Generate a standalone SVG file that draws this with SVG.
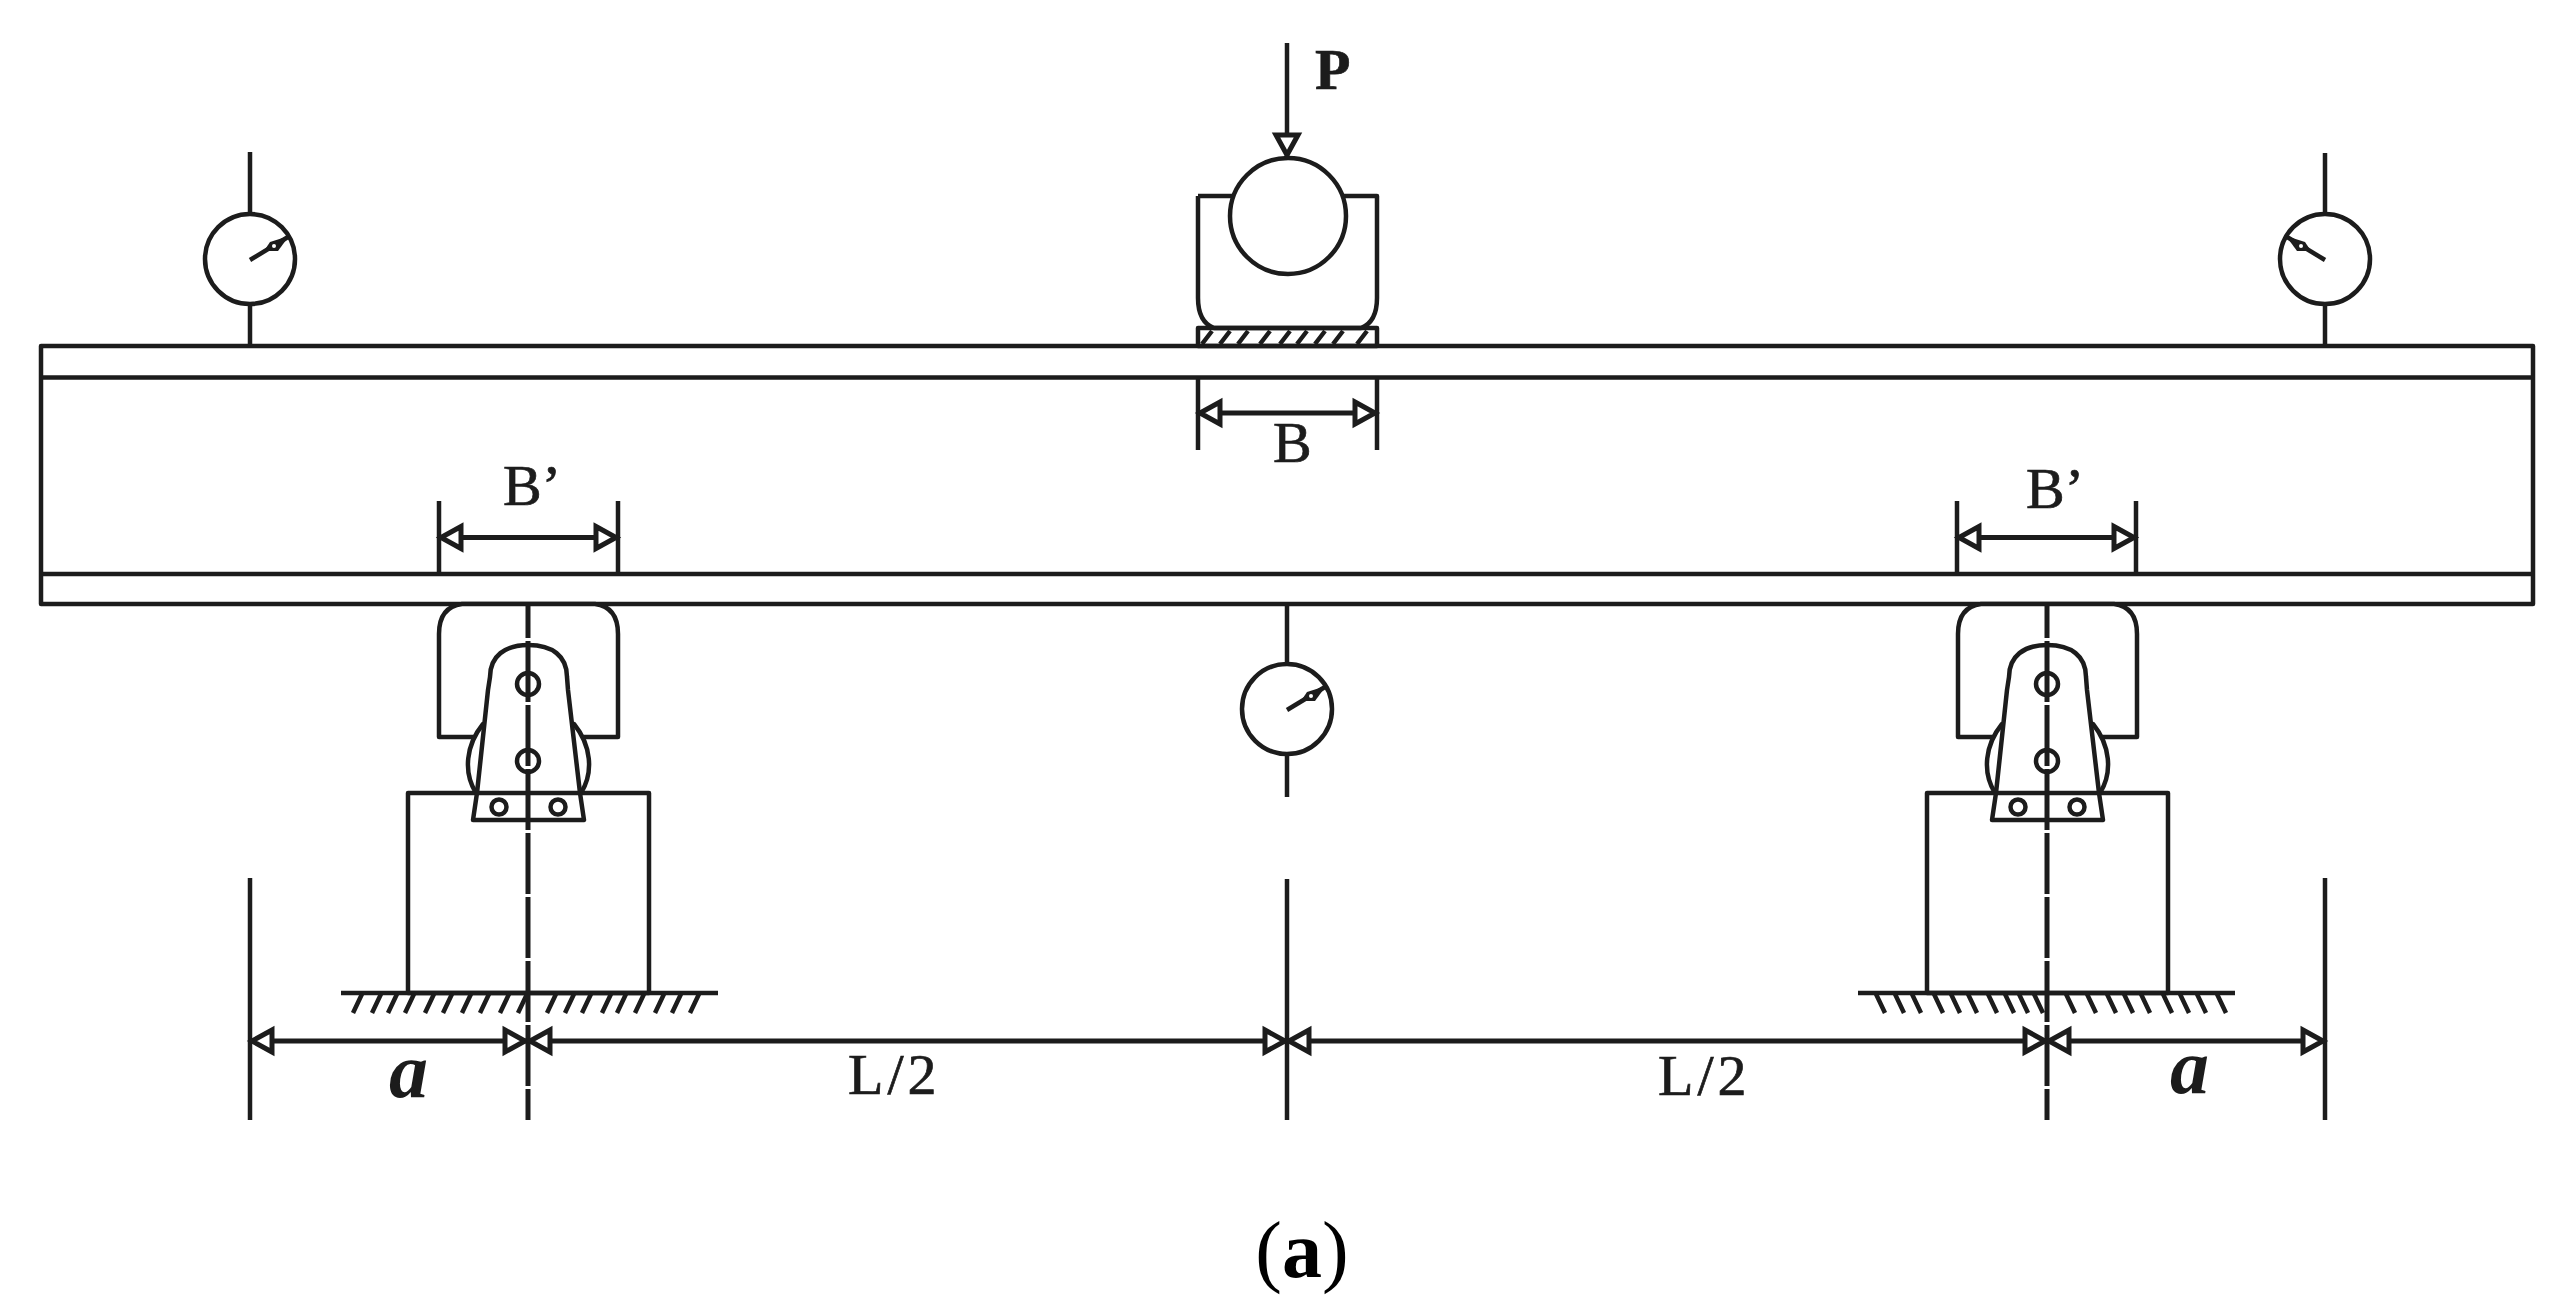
<svg xmlns="http://www.w3.org/2000/svg" xmlns:xlink="http://www.w3.org/1999/xlink" width="2564" height="1315" viewBox="0 0 2564 1315">
<style>
.l{fill:none;stroke:#1c1c1c;stroke-width:4.500;stroke-linecap:butt;stroke-linejoin:round}
.w{fill:#fff;stroke:#1c1c1c;stroke-width:4.500;stroke-linejoin:round}
.t{font-family:"Liberation Serif",serif;font-size:58px;fill:#1c1c1c;stroke:#1c1c1c;stroke-width:.7}
.h{fill:none;stroke:#1c1c1c;stroke-width:4.500}
.dim{fill:none;stroke:#1c1c1c;stroke-width:5}
.cl{fill:none;stroke:#1c1c1c;stroke-width:5;stroke-dasharray:61 3;stroke-dashoffset:27}
</style>
<defs>
<marker id="ah" markerUnits="userSpaceOnUse" viewBox="-26 -16 30 32" refX="0" refY="0" markerWidth="30" markerHeight="32" orient="auto-start-reverse">
<path d="M-22,-11 L-2,0 L-22,11 Z" fill="#fff" stroke="#1c1c1c" stroke-width="5" stroke-linejoin="miter"/>
</marker>
<g id="support">
<rect class="w" x="408" y="793" width="241" height="200"/>
<path class="w" d="M462,604 Q439,607 439,634 V737 H618 V634 Q618,607 595,604 Z"/>
<path class="w" d="M483,724 C466,745 463,772 476,793 H581 C594,772 591,745 574,724 Z"/>
<path class="w" d="M473,820 L477,793 L488,690 L490,677 C490,656 505,645 528.500,645 C552,645 567,656 567,677 L568,690 L580,793 L584,820 Z"/>
<path class="l" d="M477,793 H580"/>
<circle class="l" cx="528" cy="684" r="11"/>
<circle class="l" cx="528" cy="761" r="11"/>
<circle class="l" cx="499" cy="807" r="7.500"/>
<circle class="l" cx="558" cy="807" r="7.500"/>
</g>
<g id="gauge">
<circle class="w" cx="0" cy="0" r="45"/>
<path class="l" d="M0,1 L38,-22"/>
<path d="M14,-8 L20,-17 L39,-23 L28,-8 Z" fill="#1c1c1c"/>
<circle cx="24" cy="-13" r="2" fill="#fff"/>
</g>
</defs>
<rect width="2564" height="1315" fill="#fff"/>

<g id="beam">
<rect class="l" x="41" y="346" width="2492" height="258"/>
<path class="l" d="M41,377.500 H2533 M41,574 H2533"/>
</g>

<g id="gauge-left">
<path class="l" d="M250,152 V214 M250,304 V346"/>
<use href="#gauge" xlink:href="#gauge" x="250" y="259"/>
</g>
<g id="gauge-right">
<path class="l" d="M2325,153 V214 M2325,304 V346"/>
<use href="#gauge" xlink:href="#gauge" transform="translate(2325,259) scale(-1,1)"/>
</g>
<g id="gauge-mid">
<path class="l" d="M1287,604 V664 M1287,754 V797"/>
<use href="#gauge" xlink:href="#gauge" x="1287" y="709"/>
</g>

<g id="load">
<path class="l" d="M1198,196 V298 Q1198,322 1214,328 H1361 Q1377,322 1377,298 V196 H1340 M1198,196 H1236"/>
<circle class="w" cx="1288" cy="216" r="58"/>
<rect class="l" x="1198" y="328" width="179" height="18"/>
<path class="h" d="M1202,344 L1212,331 M1220,344 L1230,331 M1238,344 L1248,331 M1260,344 L1270,331 M1280,344 L1290,331 M1297,344 L1307,331 M1315,344 L1325,331 M1333,344 L1343,331 M1357,344 L1367,331"/>
</g>

<g id="support-left">
<use href="#support" xlink:href="#support"/>
<path class="l" d="M341,993 H718"/>
<path class="h" d="M353,1013 L362,994 M372,1013 L381,994 M388,1013 L397,994 M405,1013 L414,994 M425,1013 L434,994 M443,1013 L452,994 M462,1013 L471,994 M480,1013 L489,994 M500,1013 L509,994 M518,1013 L527,994 M547,1013 L556,994 M565,1013 L574,994 M582,1013 L591,994 M602,1013 L611,994 M617,1013 L626,994 M635,1013 L644,994 M655,1013 L664,994 M672,1013 L681,994 M690,1013 L699,994"/>
</g>
<g id="support-right">
<use href="#support" xlink:href="#support" x="1519"/>
<path class="l" d="M1858,993 H2235"/>
<path class="h" d="M1885,1013 L1876,994 M1904,1013 L1895,994 M1921,1013 L1912,994 M1943,1013 L1934,994 M1960,1013 L1951,994 M1977,1013 L1968,994 M1997,1013 L1988,994 M2014,1013 L2005,994 M2028,1013 L2019,994 M2043,1013 L2034,994 M2075,1013 L2066,994 M2096,1013 L2087,994 M2116,1013 L2107,994 M2133,1013 L2124,994 M2150,1013 L2141,994 M2172,1013 L2163,994 M2189,1013 L2180,994 M2206,1013 L2197,994 M2226,1013 L2217,994"/>
</g>

<g id="connectors">
<path class="l" d="M1287,43 V157" marker-end="url(#ah)"/>
<path class="l" d="M1198,378 V450 M1377,378 V450"/>
<path class="l" d="M439,501 V574 M618,501 V574 M1957,501 V574 M2136,501 V574"/>
<path class="dim" d="M439,537.500 H618" marker-start="url(#ah)" marker-end="url(#ah)"/>
<path class="dim" d="M1957,537.500 H2136" marker-start="url(#ah)" marker-end="url(#ah)"/>
<path class="dim" d="M1198,413 H1377" marker-start="url(#ah)" marker-end="url(#ah)"/>
<path class="cl" d="M528,604 V1120"/>
<path class="cl" d="M2047,604 V1120"/>
<path class="l" d="M250,878 V1120 M1287,879 V1120 M2325,878 V1120"/>
<path class="dim" d="M250,1041 H527" marker-start="url(#ah)" marker-end="url(#ah)"/>
<path class="dim" d="M528,1041 H1287" marker-start="url(#ah)" marker-end="url(#ah)"/>
<path class="dim" d="M1287,1041 H2047" marker-start="url(#ah)" marker-end="url(#ah)"/>
<path class="dim" d="M2047,1041 H2325" marker-start="url(#ah)" marker-end="url(#ah)"/>
</g>

<g id="labels">
<text class="t" x="1315" y="89" font-weight="bold">P</text>
<text class="t" x="1273" y="462">B</text>
<text class="t" x="503" y="505">B’</text>
<text class="t" x="2026" y="508">B’</text>
<text class="t" x="848" y="1094" letter-spacing="4">L/2</text>
<text class="t" x="1658" y="1095" letter-spacing="4">L/2</text>
<text class="t" x="389" y="1097" style="font-size:78px;stroke:none" font-weight="bold" font-style="italic">a</text>
<text class="t" x="2170" y="1093" style="font-size:78px;stroke:none" font-weight="bold" font-style="italic">a</text>
<text x="1302" y="1277" text-anchor="middle" font-family="'Liberation Serif',serif" font-size="80" fill="#000">(<tspan font-weight="bold">a</tspan>)</text>
</g>
</svg>
